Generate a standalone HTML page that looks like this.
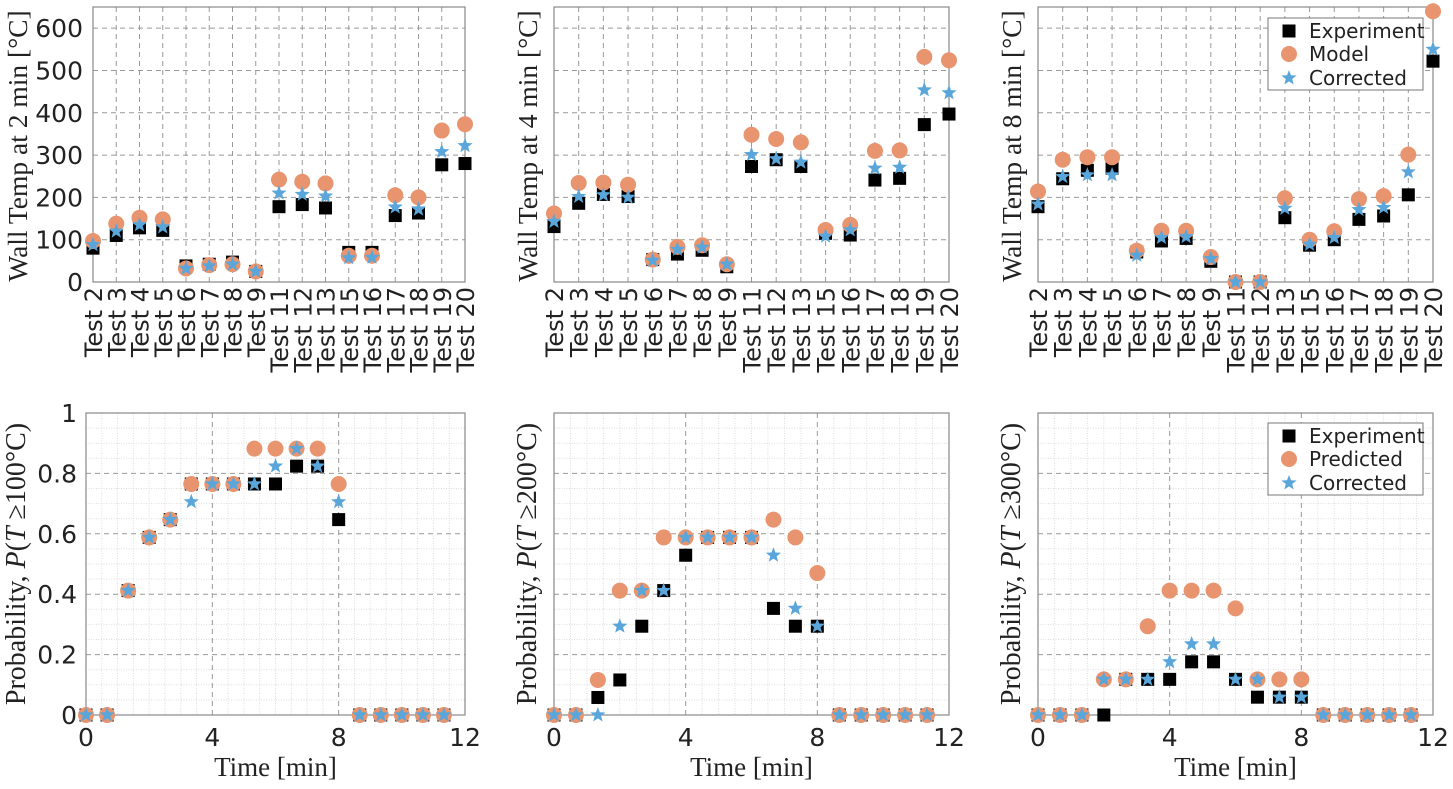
<!DOCTYPE html>
<html><head><meta charset="utf-8">
<style>
html,body{margin:0;padding:0;background:#fff;}
svg{display:block;}
text{font-family:"DejaVu Sans","Liberation Sans",sans-serif;fill:#222;}
.ser{font-family:"Liberation Serif","DejaVu Serif",serif;}
</style></head>
<body>
<svg id="fig" width="1453" height="789" viewBox="0 0 1453 789" xmlns="http://www.w3.org/2000/svg"></svg>
<script>
// ---------- data ----------
const tests = ["Test 2","Test 3","Test 4","Test 5","Test 6","Test 7","Test 8","Test 9","Test 11","Test 12","Test 13","Test 15","Test 16","Test 17","Test 18","Test 19","Test 20"];
const tempTicks = [0,100,200,300,400,500,600];
const exp2 = [80,110,128,122,38,42,47,25,178,183,175,70,70,157,163,277,280];
const mod2 = [97,138,152,148,32,40,42,25,242,237,233,62,62,205,200,358,373];
const cor2 = [88,120,135,130,32,38,42,25,210,207,203,57,58,177,172,308,322];
const exp4 = [131,186,207,202,53,66,75,36,273,289,273,115,111,241,245,372,397];
const mod4 = [162,234,235,230,53,83,87,42,348,338,330,123,135,310,311,532,524];
const cor4 = [143,202,206,200,51,77,82,42,301,291,283,108,123,269,271,454,447];
const exp8 = [178,244,264,269,71,97,103,49,0,0,152,87,100,148,156,206,522];
const mod8 = [214,289,295,295,74,121,121,59,0,0,198,100,120,196,203,301,640];
const cor8 = [184,249,253,253,63,105,107,55,0,0,174,89,105,171,176,260,550];
const times = [0,0.667,1.333,2,2.667,3.333,4,4.667,5.333,6,6.667,7.333,8,8.667,9.333,10,10.667,11.333];
const timeTicks = [0,4,8,12];
const probTicks = [0,0.2,0.4,0.6,0.8,1];
const exp100 = [0,0,.412,.588,.647,.765,.765,.765,.765,.765,.824,.824,.647,0,0,0,0,0];
const mod100 = [0,0,.412,.588,.647,.765,.765,.765,.882,.882,.882,.882,.765,0,0,0,0,0];
const cor100 = [0,0,.412,.588,.647,.706,.765,.765,.765,.824,.882,.824,.706,0,0,0,0,0];
const exp200 = [0,0,.058,.116,.294,.412,.529,.588,.588,.588,.353,.294,.294,0,0,0,0,0];
const mod200 = [0,0,.116,.412,.412,.588,.588,.588,.588,.588,.647,.588,.470,0,0,0,0,0];
const cor200 = [0,0,0,.294,.412,.412,.588,.588,.588,.588,.529,.353,.294,0,0,0,0,0];
const exp300 = [0,0,0,0,.118,.118,.118,.176,.176,.118,.059,.059,.059,0,0,0,0,0];
const mod300 = [0,0,0,.118,.118,.294,.412,.412,.412,.353,.118,.118,.118,0,0,0,0,0];
const cor300 = [0,0,0,.118,.118,.118,.176,.235,.235,.118,.118,.059,.059,0,0,0,0,0];

const NS="http://www.w3.org/2000/svg";
const svg=document.getElementById('fig');
const ORANGE="#E8946F", BLUE="#5AA6DA";
function mk(tag,attrs,parent){const e=document.createElementNS(NS,tag);for(const k in attrs)e.setAttribute(k,attrs[k]);(parent||svg).appendChild(e);return e;}
function starPath(cx,cy,R){const r=R*0.42;let d="";for(let i=0;i<10;i++){const a=-Math.PI/2+i*Math.PI/5;const rr=i%2?r:R;d+=(i?"L":"M")+(cx+rr*Math.cos(a)).toFixed(2)+","+(cy+rr*Math.sin(a)).toFixed(2);}return d+"Z";}
function square(g,cx,cy){const e=mk('rect',{x:cx-6.5,y:cy-6.5,width:13,height:13,fill:'#000'},g);}
function circle(g,cx,cy){const e=mk('circle',{cx:cx,cy:cy,r:8,fill:ORANGE},g);}
function star(g,cx,cy){const e=mk('path',{d:starPath(cx,cy,8),fill:BLUE},g);}

function ylabel(x,cy,html,name,fs){const t=mk('text',{x:0,y:0,transform:`translate(${x},${cy}) rotate(-90)`,'text-anchor':'middle','font-size':fs,class:'ser'});t.innerHTML=html;}

// ---------- top panels ----------
function topPanel(x0,x1,E,M,C,label,name,showTicks){
  const g=mk('g',{});
  const yT=7,yB=282,ymax=650;
  const sx=i=>x0+i*(x1-x0)/(tests.length-1);
  const sy=v=>yB-v*(yB-yT)/ymax;
  tempTicks.forEach(v=>{if(v>0)mk('line',{x1:x0,x2:x1,y1:sy(v),y2:sy(v),stroke:'#999','stroke-dasharray':'5,4','stroke-width':1},g);
    if(showTicks){const t=mk('text',{x:x0-10,y:sy(v)+9,'text-anchor':'end','font-size':25},g);t.textContent=v;}});
  tests.forEach((s,i)=>{mk('line',{x1:sx(i),x2:sx(i),y1:yT,y2:yB,stroke:'#999','stroke-dasharray':'5,4','stroke-width':1},g);
    const t=mk('text',{x:0,y:0,transform:`translate(${sx(i)+9},${yB+5}) rotate(-90)`,'text-anchor':'end','font-size':24},g);t.textContent=s;});
  mk('rect',{x:x0,y:yT,width:x1-x0,height:yB-yT,fill:'none',stroke:'#888','stroke-width':1.2},g);
  E.forEach((v,i)=>square(g,sx(i),sy(v)));
  M.forEach((v,i)=>circle(g,sx(i),sy(v)));
  C.forEach((v,i)=>star(g,sx(i),sy(v)));
  ylabel(x0-(showTicks?66:17),146,label,name+'-y-title',27.5);
}
topPanel(93,465,exp2,mod2,cor2,'Wall Temp at 2 min [°C]','panel-2min',true);
topPanel(554,949,exp4,mod4,cor4,'Wall Temp at 4 min [°C]','panel-4min',false);
topPanel(1038,1433,exp8,mod8,cor8,'Wall Temp at 8 min [°C]','panel-8min',false);

// ---------- bottom panels ----------
function botPanel(x0,x1,E,M,C,label,name,showTicks){
  const g=mk('g',{});
  const yT=413,yB=715;
  const sx=t=>x0+t*(x1-x0)/12;
  const sy=v=>yB-v*(yB-yT);
  for(let t=0.5;t<12;t+=0.5){if(t%4!==0)mk('line',{x1:sx(t),x2:sx(t),y1:yT,y2:yB,stroke:'#ddd','stroke-dasharray':'1,1.5','stroke-width':1},g);}
  for(let k=1;k<20;k++){if(k%4!==0)mk('line',{x1:x0,x2:x1,y1:sy(k*0.05),y2:sy(k*0.05),stroke:'#ddd','stroke-dasharray':'1,1.5','stroke-width':1},g);}
  timeTicks.forEach(t=>{if(t>0&&t<12)mk('line',{x1:sx(t),x2:sx(t),y1:yT,y2:yB,stroke:'#999','stroke-dasharray':'5,4'},g);
    const tx=mk('text',{x:sx(t),y:yB+31,'text-anchor':'middle','font-size':25},g);tx.textContent=t;});
  probTicks.forEach(v=>{if(v>0&&v<1)mk('line',{x1:x0,x2:x1,y1:sy(v),y2:sy(v),stroke:'#999','stroke-dasharray':'5,4'},g);
    if(showTicks){const t=mk('text',{x:x0-9,y:sy(v)+9,'text-anchor':'end','font-size':25},g);t.textContent=v;}});
  mk('rect',{x:x0,y:yT,width:x1-x0,height:yB-yT,fill:'none',stroke:'#888','stroke-width':1.2},g);
  E.forEach((v,i)=>square(g,sx(times[i]),sy(v)));
  M.forEach((v,i)=>circle(g,sx(times[i]),sy(v)));
  C.forEach((v,i)=>star(g,sx(times[i]),sy(v)));
  const xt=mk('text',{x:(x0+x1)/2,y:776,'text-anchor':'middle','font-size':27,class:'ser'},g);xt.textContent='Time [min]';
  ylabel(x0-(showTicks?61:18),564,label,name+'-y-title',28);
}
botPanel(86,465,exp100,mod100,cor100,'Probability, <tspan font-style="italic">P</tspan>(<tspan font-style="italic">T</tspan> ≥100°C)','panel-p100',true);
botPanel(554,949,exp200,mod200,cor200,'Probability, <tspan font-style="italic">P</tspan>(<tspan font-style="italic">T</tspan> ≥200°C)','panel-p200',false);
botPanel(1038,1433,exp300,mod300,cor300,'Probability, <tspan font-style="italic">P</tspan>(<tspan font-style="italic">T</tspan> ≥300°C)','panel-p300',false);

// ---------- legends ----------
function legend(x,y,labels,name){
  const g=mk('g',{});
  mk('rect',{x:x,y:y,width:155,height:72,fill:'#fff',stroke:'#777','stroke-width':1},g);
  const cy=[y+13,y+36,y+60];
  square(g,x+21,cy[0]);circle(g,x+21,cy[1]);star(g,x+21,cy[2]);
  labels.forEach((l,i)=>{const t=mk('text',{x:x+41,y:cy[i]+7,'font-size':20},g);t.textContent=l;});
}
legend(1268,18,['Experiment','Model','Corrected'],'legend-top');
legend(1268,423,['Experiment','Predicted','Corrected'],'legend-bottom');
</script>
</body></html>
